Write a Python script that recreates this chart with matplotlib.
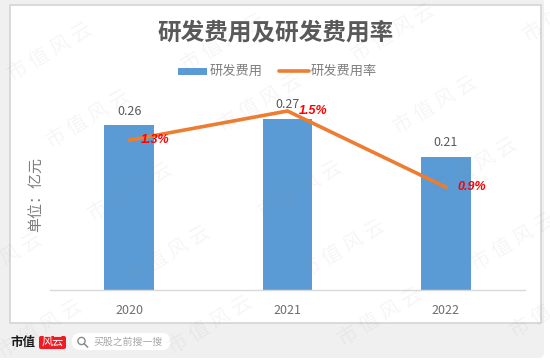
import matplotlib
matplotlib.use('Agg')
import matplotlib.pyplot as plt
from matplotlib.patches import FancyBboxPatch, Rectangle, Circle

plt.rcParams['font.family'] = ['Noto Sans CJK SC', 'DejaVu Sans']

years = ['2020', '2021', '2022']
rd_cost = [0.26, 0.27, 0.21]
rd_rate = [1.27, 1.5, 0.9]
rate_labels = ['1.3%', '1.5%', '0.9%']
watermarks = [(50, 52), (223, 43), (393, 33), (565, 13), (88, 119), (260, 103), (435, 105),
              (130, 192), (300, 190), (475, 167), (0, 262), (168, 255), (343, 249), (513, 242),
              (40, 329), (210, 325), (380, 317), (552, 309)]

W, H = 550, 364
BLUE = '#5b9bd5'
ORANGE = '#ed7d31'
GREY = '#7f7f7f'

fig = plt.figure(figsize=(W / 100, H / 100), dpi=100, facecolor='white')

# 바탕 레이어: 픽셀 좌표 사용
bg = fig.add_axes([0, 0, 1, 1], zorder=0)
bg.set_xlim(0, W)
bg.set_ylim(H, 0)
bg.axis('off')
bg.add_patch(FancyBboxPatch((-20, -20), W - 6 + 20, 378, boxstyle='round,pad=0,rounding_size=6',
                            fc='#f0f0f0', ec='none'))
bg.add_patch(Rectangle((9.5, 4.5), 531.5, 318.5, fc='white', ec='#d4d4d4', lw=1.2))

# 막대 + 꺾은선
left, right, top, bottom = 50, 525, 95, 289.5
ax = fig.add_axes([left / W, 1 - bottom / H, (right - left) / W, (bottom - top) / H], zorder=1)
ax.patch.set_alpha(0)
x = list(range(len(years)))
ax.bar(x, rd_cost, width=0.312, color=BLUE, zorder=2)
ax.set_xlim(-0.5, 2.5)
ax.set_ylim(0, 0.308)
ax.set_xticks(x, years)
ax.set_yticks([])
ax.tick_params(axis='x', length=0, labelsize=9, labelcolor='#6e6e6e', pad=10.5)
for s in ['top', 'left', 'right']:
    ax.spines[s].set_visible(False)
ax.spines['bottom'].set_color('#d9d9d9')
ax.spines['bottom'].set_linewidth(1.0)
for xi, v in zip(x, rd_cost):
    ax.annotate(f'{v:.2f}', (xi, v), xytext=(0, 5.5), textcoords='offset points', ha='center', va='bottom',
                fontsize=9, color='#595959')

ax2 = ax.twinx()
ax2.patch.set_alpha(0)
ax2.set_ylim(0.094, 1.626)
ax2.set_yticks([])
for s in ax2.spines.values():
    s.set_visible(False)
ax2.plot(x, rd_rate, color=ORANGE, lw=2.6, solid_capstyle='round', solid_joinstyle='miter', zorder=3)
for xi, v, lab in zip(x, rd_rate, rate_labels):
    ax2.annotate(lab, (xi, v), xytext=(18.5, 0), textcoords='offset points', ha='center', va='center',
                 fontsize=9, color='#ff0000', fontweight='bold', fontstyle='italic',
                 family='Liberation Sans', zorder=4)

# 제목, 범례, 축 제목, 푸터
fg = fig.add_axes([0, 0, 1, 1], zorder=2)
fg.set_xlim(0, W)
fg.set_ylim(H, 0)
fg.axis('off')
fg.text(275.5, 32, '研发费用及研发费用率', ha='center', va='center', fontsize=17, fontweight='bold', color='#595959')
fg.add_patch(Rectangle((178, 68), 29, 7, fc=BLUE, ec='none'))
fg.text(210, 71, '研发费用', ha='left', va='center', fontsize=9.5, color=GREY)
fg.plot([279, 309], [71, 71], color=ORANGE, lw=2.6, solid_capstyle='round')
fg.text(311, 71, '研发费用率', ha='left', va='center', fontsize=9.5, color=GREY)
fg.text(37, 195, '单位：亿元', rotation=90, ha='center', va='center', fontsize=10.8, color=GREY)

fg.text(10, 342, '市值', ha='left', va='center', fontsize=9, fontweight='bold', color='#1a1a1a')
fg.add_patch(FancyBboxPatch((39, 336), 27, 13, boxstyle='round,pad=0,rounding_size=2', fc='#f01c24', ec='none'))
fg.text(52.5, 342, '风云', ha='center', va='center', fontsize=8, color='white', fontstyle='italic')
fg.add_patch(FancyBboxPatch((72, 333), 98, 17, boxstyle='round,pad=0,rounding_size=8', fc='white', ec='none'))
fg.add_patch(Circle((81.5, 341), 3.6, fc='none', ec='#8a8a8a', lw=1.0))
fg.plot([84.2, 87.5], [343.7, 347], color='#8a8a8a', lw=1.1)
fg.text(93, 342, '买股之前搜一搜', ha='left', va='center', fontsize=7.1, color='#a6a6a6')

# 워터마크
for wx, wy in watermarks:
    fg.text(wx, wy, '市 值 风 云', rotation=31, ha='center', va='center', rotation_mode='anchor',
            fontsize=14.5, color='#808080', alpha=0.075, clip_on=True)

fig.savefig('out.png', dpi=100)
